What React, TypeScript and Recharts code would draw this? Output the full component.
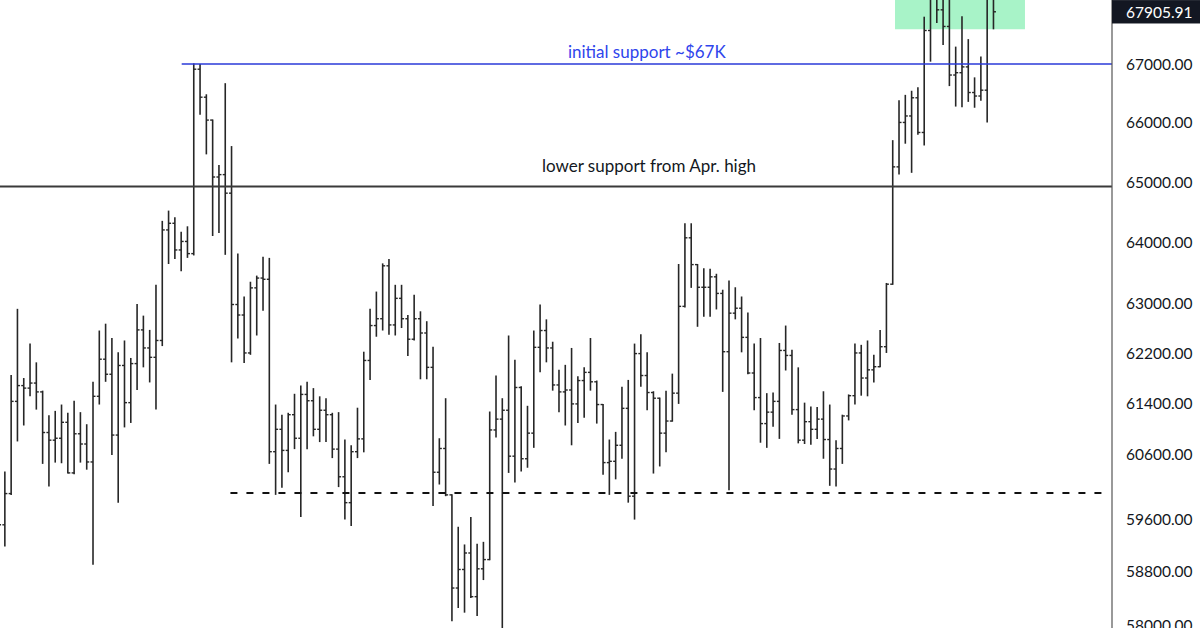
import { Bar, ComposedChart, ReferenceArea, ReferenceLine, XAxis, YAxis } from 'recharts';

// hourly bars (left tick = open, right tick = close)
const opens = [
  59900, 59510, 59990, 61430, 61680, 61640, 61720, 61580, 60940, 60820,
  60850, 61100, 60310, 60920, 60760, 60480, 61510, 62100, 61860, 60900,
  62000, 61410, 62030, 62570, 62280, 62130, 62400, 64200, 64310, 63870,
  64010, 63810, 66910, 66430, 66040, 65080, 65120, 64810, 62980, 62810,
  62200, 63250, 63410, 63390, 60640, 60990, 60660, 61220, 60850, 61540,
  61440, 60990, 61290, 61220, 60680, 60250, 59850, 60640, 60840, 62080,
  62640, 62750, 63610, 62650, 63080, 62750, 62420, 62750, 62520, 61970,
  60320, 60690, 59970, 58550, 58830, 59080, 58420, 58840, 58980, 60980,
  61150, 61290, 60570, 61650, 60530, 60930, 62290, 62560, 62280, 61690,
  61580, 61610, 61390, 61760, 61890, 61740, 61380, 60470, 60490, 60740,
  61320, 59950, 62190, 61840, 61570, 61480, 60930, 61120, 61560, 62950,
  64070, 63630, 63260, 63260, 63430, 63160, 62220, 62840, 62920, 62450,
  61880, 61490, 61080, 61260, 61430, 62240, 62160, 61300, 60820, 61110,
  60990, 61150, 60830, 60370, 60690, 61200, 61520, 62200, 61800, 61930,
  61980, 62300, 63310, 65250, 66000, 66110, 66420, 65830, 67580, 68180,
  67940, 67650, 66810, 66850, 66950, 66510, 66450, 66550, 68160,
];

const highs = [
  60050, 60330, 61850, 62910, 61800, 62350, 62050, 61600, 61210, 61280,
  61380, 61250, 61440, 61260, 61070, 61740, 62560, 62670, 62440, 62210,
  62400, 62120, 62990, 62800, 62570, 63300, 64350, 64520, 64410, 64170,
  64260, 67010, 67000, 66480, 66050, 65280, 66670, 65600, 63810, 63110,
  63350, 63450, 63760, 63740, 61380, 61220, 61250, 61550, 61680, 61740,
  61640, 61510, 61480, 61250, 61260, 60830, 60740, 61330, 62220, 62910,
  63190, 63650, 63720, 63300, 63300, 62810, 63140, 62870, 62710, 62300,
  60850, 61480, 59980, 59480, 59210, 59630, 59220, 59250, 61270, 61840,
  61480, 62480, 62090, 61670, 61360, 62560, 62980, 62740, 62380, 61930,
  62010, 62280, 61830, 61970, 62440, 61760, 61390, 60830, 60950, 61660,
  61770, 62350, 62500, 62210, 61590, 61490, 61600, 61870, 63640, 64310,
  64310, 63640, 63570, 63560, 63480, 63220, 63370, 63260, 63110, 62850,
  62350, 62440, 61560, 61570, 62360, 62640, 62250, 61970, 61410, 61350,
  61340, 61590, 61380, 60820, 61220, 61540, 62350, 62330, 62400, 62170,
  62570, 63330, 65700, 66380, 66470, 66540, 66600, 67820, 68260, 68230,
  68220, 68200, 67300, 67830, 67430, 66770, 67130, 68300, 68260,
];

const lows = [
  59210, 59180, 59970, 60800, 61050, 61510, 61300, 60450, 60100, 60470,
  60460, 60300, 60290, 60470, 60360, 58900, 61380, 61740, 60590, 59850,
  61020, 61090, 61610, 61970, 61730, 61300, 62310, 63640, 63720, 63520,
  63740, 63780, 66130, 65460, 64100, 64150, 63790, 62050, 62430, 62040,
  62170, 62480, 62880, 60450, 59970, 60080, 60320, 60680, 59630, 60680,
  60880, 60790, 60790, 60540, 60090, 59590, 59490, 60540, 60630, 61770,
  62460, 62560, 62490, 62480, 62600, 62150, 62400, 61780, 61780, 59800,
  60130, 59950, 58050, 58250, 58180, 58400, 58130, 58670, 58970, 60860,
  57800, 60310, 60160, 60330, 60390, 60700, 61890, 62050, 61600, 61260,
  61050, 60740, 61090, 61170, 61600, 61080, 60280, 59970, 60210, 60530,
  59850, 59590, 61660, 61290, 60300, 60410, 60630, 61110, 61390, 62930,
  63250, 62620, 62780, 62780, 62900, 61580, 60040, 62740, 62210, 61860,
  61290, 60780, 60700, 61030, 60840, 61920, 61220, 60770, 60760, 60750,
  60840, 60530, 60110, 60100, 60450, 61130, 61380, 61520, 61510, 61730,
  61970, 62200, 63300, 65120, 65640, 65150, 65790, 65610, 67040, 67710,
  67330, 66620, 66270, 66260, 66350, 66250, 66370, 66000, 67600,
];

const closes = [
  59510, 59990, 61430, 61680, 61640, 61720, 61580, 60940, 60820, 60850,
  61100, 60310, 60920, 60760, 60480, 61510, 62100, 61860, 60900, 62000,
  61410, 62030, 62570, 62280, 62130, 62400, 64200, 64310, 63870, 64010,
  63810, 66910, 66430, 66040, 65080, 65120, 64810, 62980, 62810, 62200,
  63250, 63410, 63390, 60640, 60990, 60660, 61220, 60850, 61540, 61440,
  60990, 61290, 61220, 60680, 60250, 59850, 60640, 60840, 62080, 62640,
  62750, 63610, 62650, 63080, 62750, 62420, 62750, 62520, 61970, 60320,
  60690, 59970, 58550, 58830, 59080, 58420, 58840, 58980, 60980, 61150,
  61290, 60570, 61650, 60530, 60930, 62290, 62560, 62280, 61690, 61580,
  61610, 61390, 61760, 61890, 61740, 61380, 60470, 60490, 60740, 61320,
  59950, 62190, 61840, 61570, 61480, 60930, 61120, 61560, 62950, 64070,
  63630, 63260, 63260, 63430, 63160, 62220, 62840, 62920, 62450, 61880,
  61490, 61080, 61260, 61430, 62240, 62160, 61300, 60820, 61110, 60990,
  61150, 60830, 60370, 60690, 61200, 61520, 62200, 61800, 61930, 61980,
  62300, 63310, 65250, 66000, 66110, 66420, 65830, 67580, 68180, 67940,
  67650, 66810, 66850, 66950, 66510, 66450, 66550, 68160, 67905.91,
];

const priceTicks = [58000, 58800, 59600, 60600, 61400, 62200, 63000, 64000, 65000, 66000, 67000];
const lastPrice = 67905.91;

const initialSupport = 67000;
const aprilHigh = 64920;
const rangeLow = 60000;

const data = closes.map((c, i) => ({
  i,
  o: opens[i],
  h: highs[i],
  l: lows[i],
  c,
  hl: [lows[i], highs[i]],
}));

const FONT = 'Lato, "Liberation Sans", sans-serif';

const OhlcBar = (props: any) => {
  const { x, y, width, height, payload } = props;
  if (x == null || y == null || !payload) return null;
  const top = Math.min(y, y + height);
  const bottom = Math.max(y, y + height);
  const cx = x + width / 2;
  const span = Math.log(payload.h) - Math.log(payload.l);
  // log axis, so place open/close between high and low in log space
  const at = (v: number) => (span > 0 ? top + ((Math.log(payload.h) - Math.log(v)) / span) * (bottom - top) : top);
  const yo = at(payload.o);
  const yc = at(payload.c);
  return (
    <g stroke="#262626" strokeWidth={1.6}>
      <line x1={cx} x2={cx} y1={top} y2={bottom} />
      <line x1={cx - 2.5} x2={cx} y1={yo} y2={yo} strokeWidth={1.4} />
      <line x1={cx} x2={cx + 2.5} y1={yc} y2={yc} strokeWidth={1.4} />
    </g>
  );
};

const PriceTick = (props: any) => {
  const { x, y, payload } = props;
  const v = payload.value;
  if (v === lastPrice) {
    return (
      <g>
        <rect x={x - 14} y={y - 11.7} width={88} height={23.4} fill="#131722" />
        <text x={x} y={y} dominantBaseline="central" fill="#fff" fontSize={15.5} fontFamily={FONT}>
          {v.toFixed(2)}
        </text>
      </g>
    );
  }
  return (
    <text x={x} y={y} dominantBaseline="central" fill="#131722" fontSize={15.5} fontFamily={FONT}>
      {v.toFixed(2)}
    </text>
  );
};

const App = () => {
  return (
    <div style={{ position: 'absolute', left: 0, top: 0, width: 1200, height: 628, background: '#fff' }}>
      <ComposedChart width={1200} height={628} data={data} margin={{ top: 0, right: 0, bottom: 0, left: 0 }}>
        <XAxis dataKey="i" type="number" domain={[0.206, 176.8]} allowDataOverflow hide />
        <YAxis
          orientation="right"
          scale="log"
          domain={[57951, 68112]}
          allowDataOverflow
          ticks={[...priceTicks, lastPrice]}
          interval={0}
          width={88}
          tickLine={false}
          tickSize={0}
          tickMargin={14}
          axisLine={{ stroke: '#555', strokeWidth: 1.2 }}
          tick={<PriceTick />}
        />
        <ReferenceArea x1={142.34} x2={162.98} y1={67600} y2={68112} fill="#a8f3c8" fillOpacity={1} stroke="none" />
        <ReferenceLine
          y={aprilHigh}
          stroke="#3a3a3a"
          strokeWidth={2}
          label={{ value: 'lower support from Apr. high', position: 'top', offset: 15, dx: 93, fill: '#131722', fontSize: 17, fontFamily: FONT }}
        />
        <ReferenceLine
          segment={[{ x: 29.06, y: initialSupport }, { x: 176.8, y: initialSupport }]}
          stroke="#2a3ad8"
          strokeWidth={1.5}
          label={{ value: 'initial support ~$67K', position: 'top', offset: 6, fill: '#2f45ec', fontSize: 17, fontFamily: FONT }}
        />
        <ReferenceLine
          segment={[{ x: 36.8, y: rangeLow }, { x: 175.4, y: rangeLow }]}
          stroke="#111"
          strokeWidth={2}
          strokeDasharray="7 9"
        />
        <Bar dataKey="hl" shape={OhlcBar} barSize={4} isAnimationActive={false} />
      </ComposedChart>
    </div>
  );
};

export default App;
